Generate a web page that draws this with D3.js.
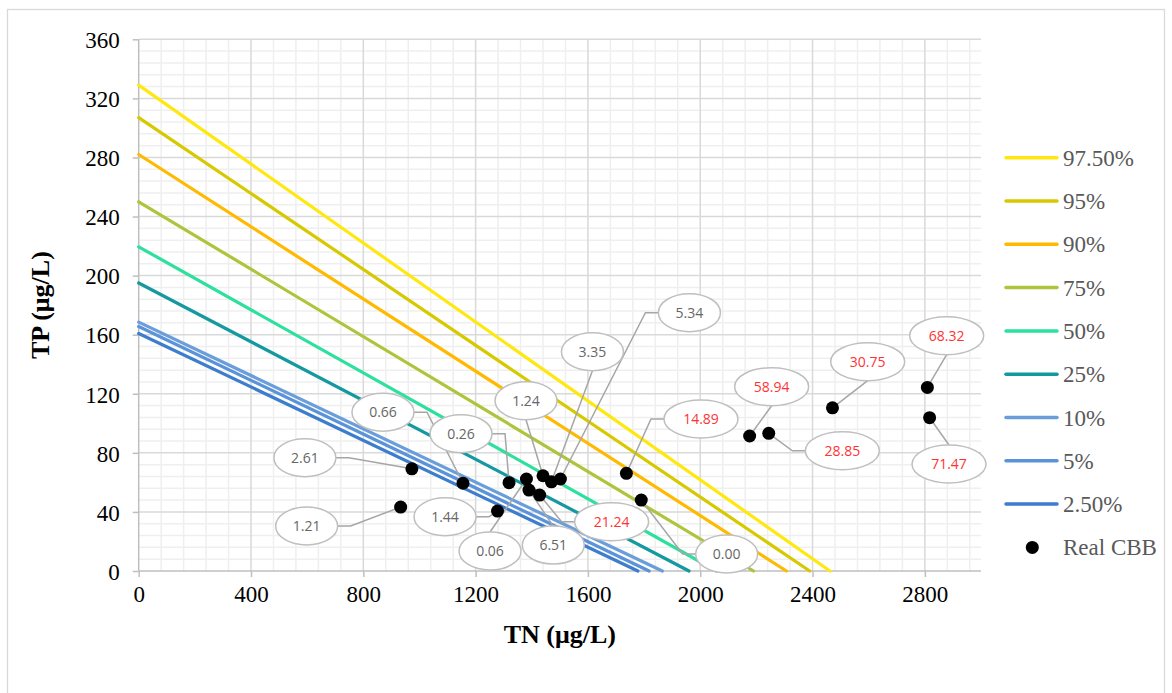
<!DOCTYPE html>
<html><head><meta charset="utf-8">
<script src="https://cdn.jsdelivr.net/npm/d3@7"></script>
<style>body{margin:0;background:#fff;} svg{display:block;}</style>
</head><body>
<svg id="chart" width="1172" height="693"></svg>
<script>
// ---------- data ----------
const seriesNames = ["97.50%", "95%", "90%", "75%", "50%", "25%", "10%", "5%", "2.50%"];
const tpIntercepts = [329, 307, 282, 250, 219.5, 195, 168.5, 165.5, 160.8];   // TP at TN = 0
const tnIntercepts = [2462, 2390, 2307, 2190, 2058, 1960, 1865, 1818, 1778]; // TN at TP = 0
const pointTN = [973, 933, 1155, 1319, 1278, 1381, 1390, 1428, 1440, 1470, 1502, 1737, 1790, 2176, 2244, 2471, 2809, 2817];
const pointTP = [69.2, 43.3, 59.4, 59.8, 40.6, 62.3, 54.8, 51.4, 64.5, 60.4, 62.3, 66.1, 48.0, 91.4, 93.2, 110.5, 124.3, 103.8];
const pointLabels = ["2.61", "1.21", "0.66", "0.26", "1.44", "0.06", "6.51", "21.24", "1.24", "3.35", "5.34", "14.89", "0.00", "58.94", "28.85", "30.75", "68.32", "71.47"];
const xTicks = [0, 400, 800, 1200, 1600, 2000, 2400, 2800];
const yTicks = [0, 40, 80, 120, 160, 200, 240, 280, 320, 360];
const legendPointName = "Real CBB";
const xTitle = "TN (μg/L)";
const yTitle = "TP (μg/L)";

// ---------- styling / layout ----------
const seriesColors = ["#FFE80F", "#D6C900", "#FFBA00", "#AFC43A", "#2DE09E", "#13999F", "#6A9EDB", "#5A93D9", "#3D7DCD"];
// label callout placement relative to its point (px): [dx, dy, attach]
const calloutLayout = [
  [-107, -11, "h"], [-94, 19, "h"], [-80, -71, "h"], [-48, -49, "h"], [-52.5, 5.7, "h"],
  [-36.4, 72, "v"], [24.3, 55, "v"], [72, 26.6, "h"], [-17, -75, "v"], [41, -130, "v"],
  [129, -166.3, "h"], [74.6, -54.4, "h"], [85.4, 53.9, "h"], [22, -49.3, "v"],
  [73.6, 17.4, "h"], [35.2, -46.1, "v"], [19.3, -51.7, "v"], [19.4, 46.3, "v"]
];

const svg = d3.select("#chart");
const x = d3.scaleLinear().domain([0, 3000]).range([138.7, 981]);
const y = d3.scaleLinear().domain([0, 360]).range([571, 39.3]);

// chart border
svg.append("rect").attr("x", 7.5).attr("y", 9.5).attr("width", 1157).attr("height", 700)
  .attr("fill", "#fff").attr("stroke", "#d9d9d9").attr("stroke-width", 1.3);

// minor grid
const gMinor = svg.append("g").attr("stroke", "#efefef").attr("stroke-width", 1.5);
gMinor.selectAll("line.vx").data(d3.range(80, 3000, 80).filter(v => v % 400 !== 0)).join("line")
  .attr("x1", d => x(d)).attr("x2", d => x(d)).attr("y1", y(0)).attr("y2", y(360));
gMinor.selectAll("line.hy").data(d3.range(8, 360, 8).filter(v => v % 40 !== 0)).join("line")
  .attr("class", "hy")
  .attr("x1", x(0)).attr("x2", x(3000)).attr("y1", d => y(d)).attr("y2", d => y(d));

// major grid
const gMajor = svg.append("g").attr("stroke", "#d9d9d9").attr("stroke-width", 1.5);
gMajor.selectAll("line.v").data(xTicks.slice(1)).join("line").attr("class", "v")
  .attr("x1", d => x(d)).attr("x2", d => x(d)).attr("y1", y(0)).attr("y2", y(360));
gMajor.selectAll("line.h").data(yTicks.slice(1)).join("line").attr("class", "h")
  .attr("x1", x(0)).attr("x2", x(3000)).attr("y1", d => y(d)).attr("y2", d => y(d));

// axes
const xAxis = d3.axisBottom(x).tickValues(xTicks).tickSize(6).tickPadding(9).tickFormat(d3.format("d"));
const yAxis = d3.axisLeft(y).tickValues(yTicks).tickSize(6).tickPadding(13).tickFormat(d3.format("d"));
const gx = svg.append("g").attr("transform", `translate(0,${y(0)})`).call(xAxis);
const gy = svg.append("g").attr("transform", `translate(${x(0)},0)`).call(yAxis);
[gx, gy].forEach(g => {
  g.select(".domain").attr("stroke", "#bfbfbf").attr("stroke-width", 1.5);
  g.selectAll(".tick line").attr("stroke", "#bfbfbf").attr("stroke-width", 1.5);
  g.selectAll(".tick text").attr("fill", "#000").attr("font-family", "'Liberation Serif', 'Times New Roman', serif").attr("font-size", 23);
});
gx.select(".domain").attr("d", `M${x(0)},0H${x(3000)}`);
gy.select(".domain").attr("d", `M0,${y(0)}V${y(360)}`);
gy.selectAll(".tick text").attr("dy", "0.36em");

// titles
svg.append("text").attr("x", (x(0) + x(3000)) / 2).attr("y", 643).attr("text-anchor", "middle")
  .attr("font-family", "'Liberation Serif', 'Times New Roman', serif").attr("font-weight", "bold")
  .attr("font-size", 26).attr("fill", "#000").text(xTitle);
svg.append("text").attr("transform", `translate(49,${(y(0) + y(360)) / 2}) rotate(-90)`).attr("text-anchor", "middle")
  .attr("font-family", "'Liberation Serif', 'Times New Roman', serif").attr("font-weight", "bold")
  .attr("font-size", 26).attr("fill", "#000").text(yTitle);

// percentile lines
const lineData = seriesNames.map((n, i) => ({ name: n, color: seriesColors[i], pts: [[0, tpIntercepts[i]], [tnIntercepts[i], 0]] }));
const lineGen = d3.line().x(d => x(d[0])).y(d => y(d[1]));
svg.append("g").selectAll("path").data(lineData.slice().reverse()).join("path")
  .attr("d", d => lineGen(d.pts)).attr("fill", "none").attr("stroke", d => d.color)
  .attr("stroke-width", 3.2).attr("stroke-linecap", "round");

// callouts
const pts = pointTN.map((tn, i) => {
  const px = x(tn), py = y(pointTP[i]);
  const lab = pointLabels[i];
  const [dx, dy, att] = calloutLayout[i];
  const rx = 7 + 6 * lab.length, ry = 19;
  const cx = px + dx, cy = py + dy;
  let path;
  if (att === "h") {
    const side = dx < 0 ? 1 : -1;
    const ex = cx + side * rx, elx = ex + side * 13;
    path = `M${ex},${cy}H${elx}L${px},${py}`;
  } else {
    const ey = dy < 0 ? cy + ry : cy - ry;
    path = `M${cx},${ey}L${px},${py}`;
  }
  return { px, py, lab, cx, cy, rx, ry, path, red: +lab > 10 };
});

svg.append("g").selectAll("path").data(pts).join("path").attr("d", d => d.path)
  .attr("fill", "none").attr("stroke", "#a6a6a6").attr("stroke-width", 1.5);

svg.append("g").selectAll("circle").data(pts).join("circle")
  .attr("cx", d => d.px).attr("cy", d => d.py).attr("r", 6.5).attr("fill", "#000");

const gl = svg.append("g");
gl.selectAll("ellipse").data(pts).join("ellipse")
  .attr("cx", d => d.cx).attr("cy", d => d.cy).attr("rx", d => d.rx).attr("ry", d => d.ry)
  .attr("fill", "#fff").attr("stroke", "#bfbfbf").attr("stroke-width", 1.5);
gl.selectAll("text").data(pts).join("text")
  .attr("x", d => d.cx).attr("y", d => d.cy).attr("dy", "0.35em").attr("text-anchor", "middle")
  .attr("font-family", "'Open Sans', 'Noto Sans', sans-serif").attr("font-size", 14)
  .attr("fill", d => d.red ? "#FF3333" : "#666666").text(d => d.lab);

// legend
const lg = svg.append("g").attr("font-family", "'Liberation Serif', 'Times New Roman', serif").attr("font-size", 23).attr("fill", "#595959");
const legY = i => 157.7 + i * 43.3;
lineData.forEach((d, i) => {
  lg.append("line").attr("x1", 1006).attr("x2", 1057).attr("y1", legY(i)).attr("y2", legY(i))
    .attr("stroke", d.color).attr("stroke-width", 3.5).attr("stroke-linecap", "round");
  lg.append("text").attr("x", 1063).attr("y", legY(i)).attr("dy", "0.35em").text(d.name);
});
lg.append("circle").attr("cx", 1032.3).attr("cy", legY(9)).attr("r", 6.5).attr("fill", "#000");
lg.append("text").attr("x", 1063).attr("y", legY(9)).attr("dy", "0.35em").text(legendPointName);
</script>
</body></html>
